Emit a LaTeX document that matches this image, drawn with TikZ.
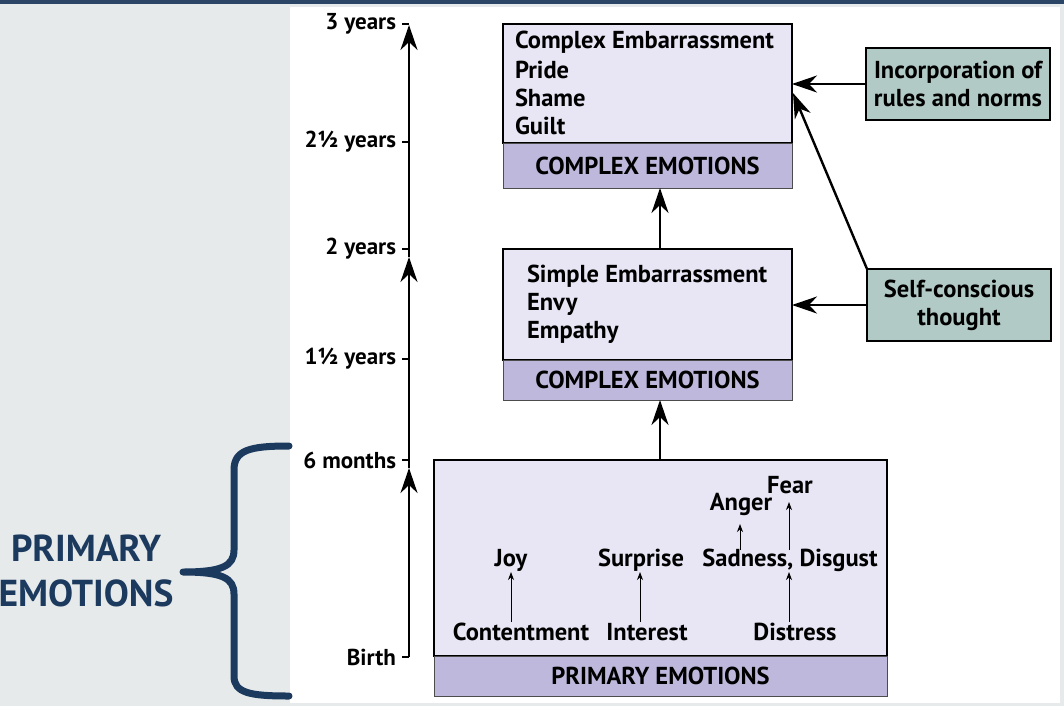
\documentclass[tikz,border=0pt]{standalone}
\usepackage{fontspec}
\setmainfont{PT Sans}
\usetikzlibrary{arrows.meta,calc}
\definecolor{navy}{HTML}{1C3A5E}
\definecolor{topbar}{HTML}{2A4565}
\definecolor{panel}{HTML}{E6EAEB}
\definecolor{lav}{HTML}{E8E6F4}
\definecolor{lavband}{HTML}{BEB9DC}
\definecolor{teal}{HTML}{B2CAC6}
\begin{document}
\begin{tikzpicture}[x=1pt,y=-1pt,
  every node/.style={inner sep=0pt,outer sep=0pt,font=\bfseries},
  tl/.style={anchor=east,font=\bfseries\fontsize{23}{26}\selectfont},
  upper/.style={draw=black,line width=2pt,fill=lav,anchor=north west},
  band/.style={draw=black!70,line width=1pt,fill=lavband,anchor=north west,font=\bfseries\fontsize{24.5}{28}\selectfont},
  itm/.style={anchor=west,font=\bfseries\fontsize{24.5}{28}\selectfont},
  emo/.style={font=\bfseries\fontsize{24.5}{28}\selectfont},
  side/.style={draw=black,line width=2pt,fill=teal,align=center,minimum width=184pt,minimum height=72pt,font=\bfseries\fontsize{24.5}{28}\selectfont},
  bigarrow/.style={line width=2.4pt,-{Stealth[length=25pt,width=17pt,inset=8pt]}},
  smallarrow/.style={line width=1pt,-{Stealth[length=8pt,width=6pt,inset=2.5pt]}},
  tick/.style={line width=1.2pt}
]
\useasboundingbox (0,0) rectangle (1064,706);
\fill[panel] (0,0) rectangle (1064,706);
\fill[topbar] (0,0) rectangle (1064,4);
\fill[white] (290,7) rectangle (1060,703);

% left label and brace
\node[font=\bfseries\fontsize{37.5}{45}\selectfont,text=navy,align=center] (prim) at (86,571) {PRIMARY\\EMOTIONS};
\draw[navy,line width=7pt,line cap=round,line join=round]
  (289,446) .. controls (250,446) and (234,450) .. (234,470) -- (234,550)
  .. controls (234,566) and (222,572) .. (183,572)
  .. controls (222,572) and (234,578) .. (234,594) -- (234,676)
  .. controls (234,693) and (250,696) .. (289,696);

% timeline
\coordinate (t0) at (409,657);
\coordinate (t6) at (409,460);
\coordinate (t18) at (409,359);
\coordinate (t24) at (409,249);
\coordinate (t30) at (409,142);
\coordinate (t36) at (409,22);
\foreach \c/\y/\txt in {t0/657/Birth, t6/460/6 months, t18/359/1½ years, t24/249/2 years, t30/142/2½ years, t36/24/3 years}{
  \draw[tick] (402,\y) -- (409,\y);
  \node[tl] (l\c) at (396,\y) {\txt};
}
\draw[bigarrow] (t0) -- ([yshift=-8pt]t6);
\draw[bigarrow] ([yshift=-8pt]t6) -- ([yshift=-8pt]t24);
\draw[bigarrow] ([yshift=-8pt]t24) -- ([yshift=-3pt]t36);

% top box
\node[upper,minimum width=289pt,minimum height=119pt] (topU) at (503,24) {};
\node[band,minimum width=289pt,minimum height=45pt] (topB) at (503,143) {COMPLEX EMOTIONS};
\node[itm] (c1) at (515,42) {Complex Embarrassment};
\node[itm] (c2) at (515,70) {Pride};
\node[itm] (c3) at (515,98) {Shame};
\node[itm] (c4) at (515,126) {Guilt};

% middle box
\node[upper,minimum width=289pt,minimum height=111pt] (midU) at (503,249) {};
\node[band,minimum width=289pt,minimum height=40pt] (midB) at (503,360) {COMPLEX EMOTIONS};
\node[itm] (s1) at (527,276) {Simple Embarrassment};
\node[itm] (s2) at (527,304) {Envy};
\node[itm] (s3) at (527,332) {Empathy};

% primary box
\node[upper,minimum width=453pt,minimum height=196pt] (priU) at (434,460) {};
\node[band,minimum width=453pt,minimum height=40pt] (priB) at (434,656) {PRIMARY EMOTIONS};
\node[emo] (cont) at (521,632) {Contentment};
\node[emo] (inter) at (647,632) {Interest};
\node[emo] (dist) at (795,632) {Distress};
\node[emo] (joy) at (511,560) {Joy};
\node[emo] (surp) at (641,560) {Surprise};
\node[emo] (sad) at (790,560) {Sadness, Disgust};
\node[emo] (anger) at (741,504) {Anger};
\node[emo] (fear) at (790,485) {Fear};
\draw[smallarrow] (511,622) -- (511,572);
\draw[smallarrow] (640,622) -- (640,572);
\draw[smallarrow] (789,622) -- (789,572);
\draw[smallarrow] (740,550) -- (740,524);
\draw[smallarrow] (789,550) -- (789,502);

% vertical connectors
\draw[bigarrow] (priU.north -| 660,0) -- (midB.south -| 660,0);
\draw[bigarrow] (midU.north -| 660,0) -- (topB.south -| 660,0);

% side boxes
\node[side,anchor=north west] (inc) at (866,48) {Incorporation of\\rules and norms};
\node[side,anchor=north west] (self) at (867,269) {Self-conscious\\thought};
\draw[bigarrow] (inc.west) -- (inc.west -| topU.east);
\draw[bigarrow] (self.west) -- (self.west -| midU.east);
\draw[bigarrow] (self.north west) -- ([yshift=-69pt,xshift=1pt]topU.north east);
\end{tikzpicture}
\end{document}
